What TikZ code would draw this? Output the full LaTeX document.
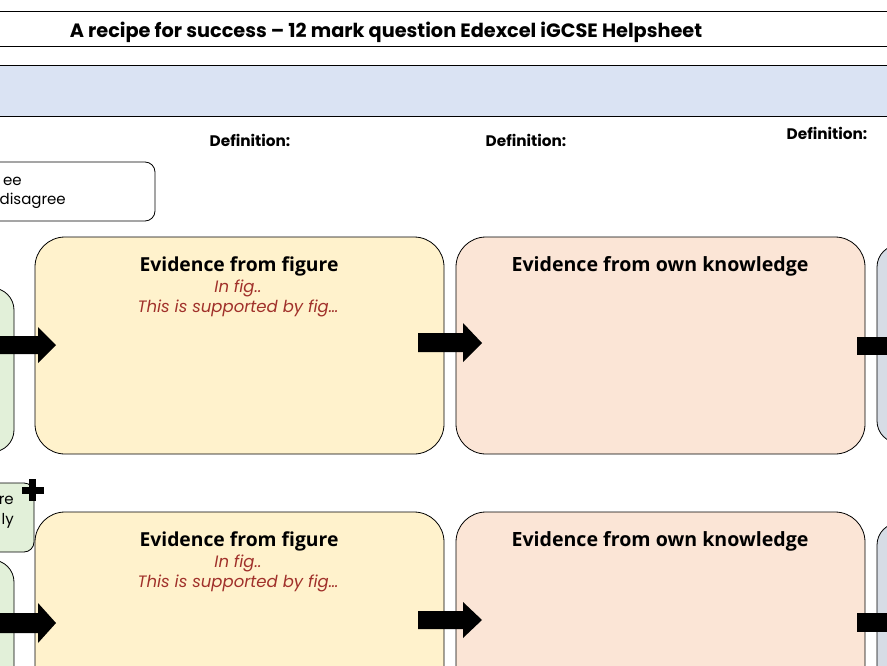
\documentclass[tikz,border=0pt]{standalone}
\usepackage{fontspec}
\setmainfont{Poppins}
\newfontfamily\evfont{Open Sans}
\definecolor{bandblue}{HTML}{DAE3F3}
\definecolor{boxyellow}{HTML}{FFF2CC}
\definecolor{boxpink}{HTML}{FBE5D6}
\definecolor{boxgreen}{HTML}{E2F0D9}
\definecolor{boxgrey}{HTML}{D6DCE5}
\definecolor{hintred}{HTML}{A0302A}
\tikzset{
  panel/.style={draw=black, line width=0.8pt, rounded corners=30pt},
  sidebox/.style={draw=black, line width=0.8pt, rounded corners=22pt},
  smallbox/.style={draw=black, line width=0.8pt, rounded corners=10pt},
  hline/.style={draw=black, line width=1pt},
  blockarrow/.style={fill=black, draw=none},
  evtitle/.style={font=\evfont\bfseries\fontsize{19.3}{22}\selectfont, inner sep=0pt},
  oktitle/.style={font=\evfont\bfseries\fontsize{19.6}{22}\selectfont, inner sep=0pt},
  hint/.style={font=\itshape\fontsize{16.5}{19}\selectfont, text=hintred, inner sep=0pt},
  deflabel/.style={font=\bfseries\fontsize{15.3}{17}\selectfont, inner sep=0pt},
  plain/.style={font=\fontsize{15}{17}\selectfont, anchor=east, inner sep=0pt},
}
\begin{document}
\begin{tikzpicture}[x=1pt,y=-1pt]
\useasboundingbox (0,0) rectangle (887,666);
% header
\draw[hline] (0,12) -- (887,12);
\draw[hline] (0,47) -- (887,47);
\node[font=\bfseries\fontsize{19.3}{22}\selectfont, inner sep=0pt] (title) at (386,32) {A recipe for success -- 12 mark question Edexcel iGCSE Helpsheet};
\fill[bandblue] (0,66) rectangle (887,117);
\draw[hline] (0,66) -- (887,66);
\draw[hline] (0,117) -- (887,117);
% definitions
\node[deflabel] (def1) at (250,140) {Definition:};
\node[deflabel] (def2) at (526,140) {Definition:};
\node[deflabel] (def3) at (827,133) {Definition:};
% agree box
\draw[smallbox] (-20,162) rectangle (155,221);
\node[plain] (agree1) at (22,181) {ee};
\node[plain] (agree2) at (66,201) {disagree};
% row 1
\draw[sidebox, fill=boxgreen] (-40,288) rectangle (14,452);
\draw[panel, fill=boxyellow] (35,237) rectangle (444,454);
\draw[panel, fill=boxpink] (456,237) rectangle (865,454);
\draw[sidebox, fill=boxgrey] (877,245) rectangle (940,443);
\node[evtitle] (ev1) at (239,266) {Evidence from figure};
\node[hint] (h1a) at (238,288) {In fig..};
\node[hint] (h1b) at (238,308) {This is supported by fig…};
\node[oktitle] (ok1) at (660,266) {Evidence from own knowledge};
% row 1 arrows
\fill[blockarrow] (0,336) -- (38,336) -- (38,327) -- (56,345) -- (38,363) -- (38,354) -- (0,354) -- cycle;
\fill[blockarrow] (418,333) -- (463,333) -- (463,323) -- (482,343) -- (463,362) -- (463,352) -- (418,352) -- cycle;
\fill[blockarrow] (857,337) rectangle (887,355);
% row 2 small box
\draw[smallbox, fill=boxgreen] (-20,483) rectangle (34,552);
\node[plain] (more1) at (14,500) {re};
\node[plain] (more2) at (14,521) {ly};
\fill[black] (28.5,479) rectangle (35.5,501);
\fill[black] (21.5,486.5) rectangle (43.5,493.5);
% row 2
\draw[sidebox, fill=boxgreen] (-40,560) rectangle (14,740);
\draw[panel, fill=boxyellow] (35,512) rectangle (444,740);
\draw[panel, fill=boxpink] (456,512) rectangle (865,740);
\draw[sidebox, fill=boxgrey] (877,523) rectangle (940,740);
\node[evtitle] (ev2) at (239,541) {Evidence from figure};
\node[hint] (h2a) at (238,563) {In fig..};
\node[hint] (h2b) at (238,583) {This is supported by fig…};
\node[oktitle] (ok2) at (660,541) {Evidence from own knowledge};
% row 2 arrows
\fill[blockarrow] (0,613) -- (38,613) -- (38,603) -- (56,623) -- (38,643) -- (38,633) -- (0,633) -- cycle;
\fill[blockarrow] (418,611) -- (463,611) -- (463,602) -- (482,620) -- (463,638) -- (463,629) -- (418,629) -- cycle;
\fill[blockarrow] (857,613) rectangle (887,632);
\end{tikzpicture}
\end{document}
